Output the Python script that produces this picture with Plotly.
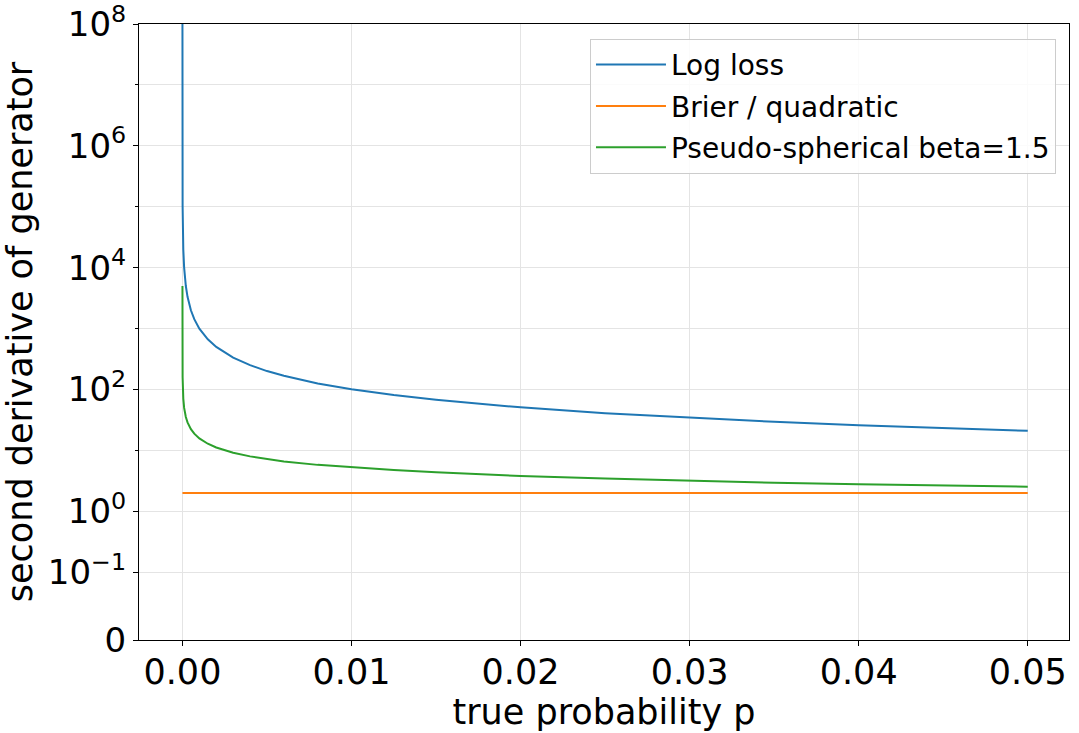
import plotly.graph_objects as go

# true probability p (x values)
p = [1e-8, 2e-6, 1e-5, 5e-5, 1e-4, 2e-4, 3e-4, 5e-4, 7e-4, 1e-3, 1.5e-3, 2e-3,
     3e-3, 4e-3, 5e-3, 6e-3, 8e-3, 0.01, 0.0125, 0.015, 0.02, 0.025, 0.03,
     0.035, 0.04, 0.045, 0.05]

# second derivative of generator
log_loss = [1e8, 5e5, 1e5, 2e4, 1e4, 5000, 3330, 2000, 1430, 1000, 667, 500,
            334, 251, 201, 168, 126, 101, 81, 68, 51, 41, 34.4, 29.6, 26.0, 23.3, 21.05]
brier = [2.0] * len(p)
pseudo_spherical = [5000, 354, 158, 71, 50, 35.4, 28.9, 22.4, 18.9, 15.8, 12.9, 11.2,
                    9.2, 8.0, 7.2, 6.6, 5.8, 5.3, 4.8, 4.4, 3.8, 3.45, 3.15,
                    2.95, 2.78, 2.65, 2.54]

series_names = ["Log loss", "Brier / quadratic", "Pseudo-spherical beta=1.5"]
series_values = [log_loss, brier, pseudo_spherical]
colors = ["#1f77b4", "#ff7f0e", "#2ca02c"]

x_ticks = [0.0, 0.01, 0.02, 0.03, 0.04, 0.05]
x_tick_labels = ["0.00", "0.01", "0.02", "0.03", "0.04", "0.05"]

# symlog-like axis (linthresh 0.1): the "0" tick sits 1/0.9 decade below 0.1
lin_decades = 1 / 0.9
zero_pos = 10 ** (-1 - lin_decades)
y_ticks = [zero_pos, 0.1, 1, 1e2, 1e4, 1e6, 1e8]
y_tick_labels = ["0", "10<sup>\u22121</sup>", "10<sup>0</sup>", "10<sup>2</sup>",
                 "10<sup>4</sup>", "10<sup>6</sup>", "10<sup>8</sup>"]
y_minor = [10, 1e3, 1e5, 1e7]

font = "DejaVu Sans"
grid = "#e4e4e4"
x_tick_size = 35
y_tick_size = 34
title_size = 35

fig = go.Figure()
for i, (name, vals) in enumerate(zip(series_names, series_values)):
    fig.add_trace(go.Scatter(x=p, y=vals, mode="lines", name=name,
                             legendgroup=f"g{i}",
                             line=dict(color=colors[i], width=2)))

fig.update_layout(
    width=1079, height=733,
    margin=dict(l=139, r=10, t=24, b=93),
    paper_bgcolor="white", plot_bgcolor="white",
    font=dict(family=font, color="black", size=title_size),
    showlegend=True,
    legend=dict(x=0.986, y=0.976, xanchor="right", yanchor="top",
                bgcolor="rgba(255,255,255,0.85)", bordercolor="#cccccc",
                borderwidth=1, font=dict(size=28, family=font),
                tracegroupgap=2, itemwidth=70),
)
fig.update_xaxes(
    range=[-0.00257, 0.05244], tickmode="array", tickvals=x_ticks,
    ticktext=x_tick_labels, ticks="outside", ticklen=5, tickcolor="black",
    showline=True, linecolor="black", linewidth=1, mirror=True,
    showgrid=True, gridcolor=grid, gridwidth=1, zeroline=False,
    automargin=False, ticklabelstandoff=-4,
    title=dict(text="true probability p", font=dict(size=title_size), standoff=2),
    tickfont=dict(size=x_tick_size),
)
fig.update_yaxes(
    type="log", range=[-1 - lin_decades, 8], tickmode="array",
    tickvals=y_ticks, ticktext=y_tick_labels, ticks="outside", ticklen=5,
    tickcolor="black", showline=True, linecolor="black", linewidth=1,
    mirror=True, showgrid=True, gridcolor=grid, gridwidth=1, zeroline=False,
    automargin=False, ticklabeloverflow="allow",
    minor=dict(tickmode="array", tickvals=y_minor, ticks="outside", ticklen=3,
               tickcolor="black", showgrid=True, gridcolor=grid),
    title=dict(text="second derivative of generator", font=dict(size=title_size), standoff=4),
    tickfont=dict(size=y_tick_size),
)

fig.write_html("out.html")
